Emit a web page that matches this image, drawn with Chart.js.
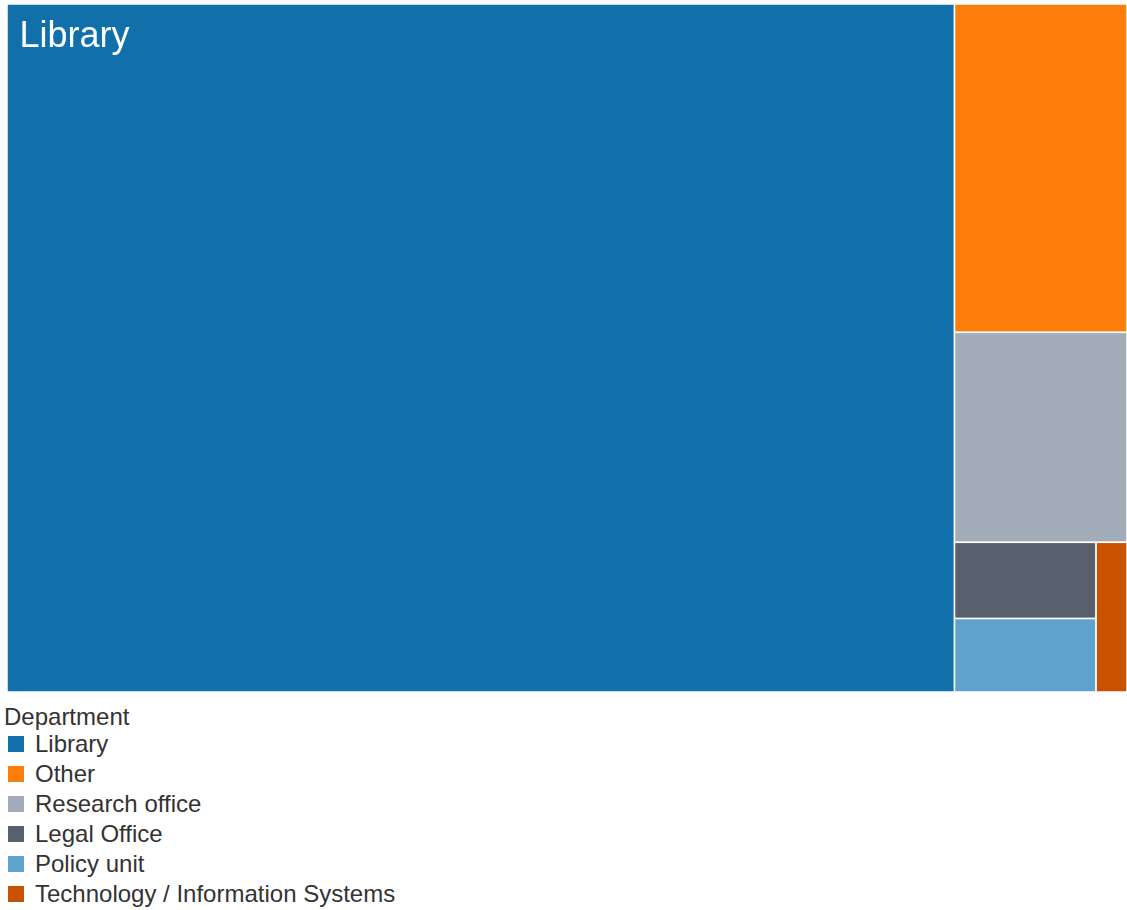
<!DOCTYPE html>
<html>
<head>
<meta charset="utf-8">
<title>Department treemap</title>
<script src="https://cdn.jsdelivr.net/npm/chart.js@4.4.1/dist/chart.umd.min.js"></script>
<style>
  body { margin: 0; background: #fff; font-family: Helvetica, Arial, "Liberation Sans", sans-serif; }
  #wrap { position: relative; width: 1127px; height: 910px; }
  #treemap { position: absolute; left: 0; top: 0; }
  #legend { position: absolute; left: 4px; top: 703px; color: #333; font-size: 24px; }
  #legend .title { line-height: 28px; height: 26px; }
  #legend .item { line-height: 30px; height: 30px; display: flex; align-items: center; }
  #legend .swatch { width: 16px; height: 16px; margin-left: 4px; margin-right: 11px; box-sizing: border-box; }
</style>
</head>
<body>
<div id="wrap">
  <canvas id="treemap" width="1127" height="692"></canvas>
  <div id="legend"></div>
</div>
<script>
const departments = ['Library', 'Other', 'Research office', 'Legal Office', 'Policy unit', 'Technology / Information Systems'];
const shares = [84.6, 7.35, 4.7, 1.4, 1.35, 0.6];
const colors = ['#1170aa', '#fc7d0b', '#a3acb9', '#57606c', '#5fa2ce', '#c85200'];

// squarified treemap: returns rects in the same units as w/h
function worst(row, side) {
    const s = row.reduce((a, b) => a + b, 0);
    const mx = Math.max(...row), mn = Math.min(...row);
    return Math.max(side * side * mx / (s * s), (s * s) / (side * side * mn));
}

function squarify(areas, x, y, w, h) {
    const rects = [];
    let i = 0;
    while (i < areas.length) {
        const side = Math.min(w, h);
        const row = [areas[i]];
        let j = i + 1;
        while (j < areas.length && worst(row.concat(areas[j]), side) <= worst(row, side)) {
            row.push(areas[j]);
            j++;
        }
        const s = row.reduce((a, b) => a + b, 0);
        if (w >= h) {
            const cw = s / h;
            let cy = y;
            row.forEach(a => { const rh = a / cw; rects.push({ x: x, y: cy, w: cw, h: rh }); cy += rh; });
            x += cw; w -= cw;
        } else {
            const rh = s / w;
            let cx = x;
            row.forEach(a => { const rw = a / rh; rects.push({ x: cx, y: y, w: rw, h: rh }); cx += rw; });
            y += rh; h -= rh;
        }
        i = j;
    }
    return rects;
}

const treemapPlugin = {
    id: 'treemap',
    afterDatasetsDraw(chart) {
        const { ctx, chartArea, scales } = chart;
        const W = chartArea.right - chartArea.left;
        const H = chartArea.bottom - chartArea.top;
        const total = shares.reduce((a, b) => a + b, 0);
        const order = shares.map((v, i) => i).sort((a, b) => shares[b] - shares[a]);
        const areas = order.map(i => shares[i] / total * W * H);
        const rects = squarify(areas, 0, 0, W, H);

        ctx.save();
        rects.forEach((r, k) => {
            const idx = order[k];
            const x0 = scales.x.getPixelForValue(r.x / W);
            const x1 = scales.x.getPixelForValue((r.x + r.w) / W);
            const y0 = scales.y.getPixelForValue(r.y / H);
            const y1 = scales.y.getPixelForValue((r.y + r.h) / H);
            ctx.fillStyle = colors[idx];
            ctx.fillRect(x0, y0, x1 - x0, y1 - y0);
            ctx.strokeStyle = '#ffffff';
            ctx.lineWidth = 1.5;
            ctx.strokeRect(x0, y0, x1 - x0, y1 - y0);
            // only the big cell carries a name
            if (shares[idx] / total > 0.25) {
                ctx.fillStyle = '#ffffff';
                ctx.font = '36px Helvetica, Arial, "Liberation Sans", sans-serif';
                ctx.textBaseline = 'alphabetic';
                ctx.textAlign = 'left';
                ctx.fillText(departments[idx], x0 + 12.5, y0 + 42.5);
            }
        });
        ctx.restore();
    }
};

const chart = new Chart(document.getElementById('treemap'), {
    type: 'scatter',
    data: { datasets: [] },
    options: {
        responsive: false,
        animation: false,
        layout: { padding: { left: 7, top: 4, right: 0, bottom: 0 } },
        scales: {
            x: { type: 'linear', min: 0, max: 1, display: false },
            y: { type: 'linear', min: 0, max: 1, reverse: true, display: false }
        },
        plugins: {
            legend: { display: false },
            tooltip: { enabled: false }
        }
    },
    plugins: [treemapPlugin]
});

// legend below the map
const legend = document.getElementById('legend');
legend.innerHTML = '<div class="title">Department</div>' + departments.map((d, i) =>
    '<div class="item"><span class="swatch" style="background:' + colors[i] + '"></span>' + d + '</div>'
).join('');
</script>
</body>
</html>
